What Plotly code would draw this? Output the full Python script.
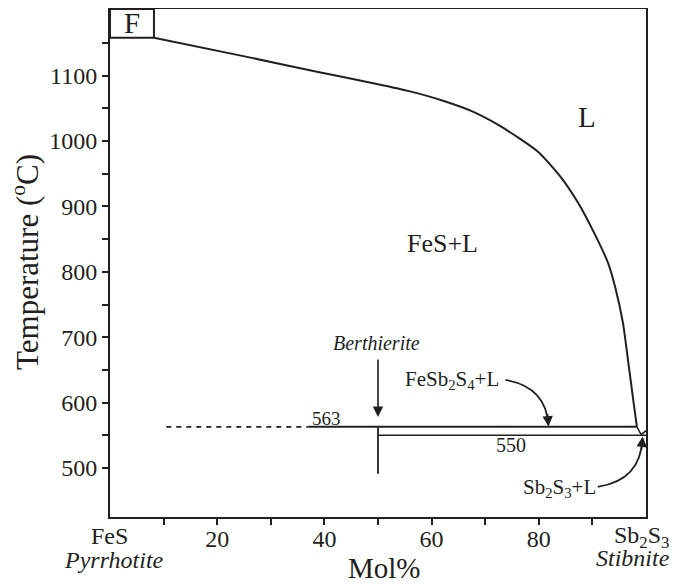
import plotly.graph_objects as go

INK = "#231f20"
FONT = "Liberation Serif"

# ---- data (x = mol% Sb2S3, y = temperature in °C) ----
liquidus_x = [8.2, 26.0, 38.6, 50.0, 56.0, 62.0, 68.0, 73.0, 79.8, 84.1, 87.3, 90.3, 92.9, 94.3, 95.7, 96.8, 97.8, 98.3]
liquidus_y = [1158, 1128, 1106, 1087, 1076, 1062, 1044, 1022, 984, 945, 906, 860, 814, 775, 722, 655, 593, 563]
sb_liquidus_x = [98.3, 99.1, 100.0]
sb_liquidus_y = [563, 551, 557]

line563_dash_x = [10.5, 37.0]
line563_solid_x = [37.0, 98.3]
t563 = 563
line550_x = [50, 100]
t550 = 550
berthierite_x = [50, 50]
berthierite_y = [563, 491]

x_tickvals = [20, 40, 60, 80]
x_minor = [10, 30, 50, 70, 90]
y_tickvals = [500, 600, 700, 800, 900, 1000, 1100]
y_minor = [550, 650, 750, 850, 950, 1050, 1150]
x_range = [0, 100]
y_range = [425, 1202]

f_box_x = [0, 8.2]
f_box_y = [1158, 1202]

# layout geometry (figure pixels; page has an 8px body margin)
OFF = 8
W, H = 681, 576
ML, MR, MT, MB = 102, 43, 1, 67
PW, PH = W - ML - MR, H - MT - MB

def px_x(px):
    return (px - OFF - ML) / PW

def px_y(py):
    return (H - MB - (py - OFF)) / PH

fig = go.Figure()

def add_line(x, y, width=2, dash="solid", shape="linear"):
    line = dict(color=INK, width=width, dash=dash, shape=shape)
    if shape == "spline":
        line["smoothing"] = 0.6
    fig.add_trace(go.Scatter(x=x, y=y, mode="lines", line=line,
                             hoverinfo="skip", showlegend=False))

add_line(liquidus_x, liquidus_y, 2, shape="spline")
add_line(sb_liquidus_x, sb_liquidus_y, 1.5)
add_line(line563_dash_x, [t563, t563], 1.8, "5px,5px")
add_line(line563_solid_x, [t563, t563], 2)
add_line(line550_x, [t550, t550], 1.5)
add_line(berthierite_x, berthierite_y, 1.8)

# F box
fig.add_shape(type="rect", x0=f_box_x[0], x1=f_box_x[1], y0=f_box_y[0], y1=f_box_y[1],
              xref="x", yref="y", line=dict(color=INK, width=2))

# curved arrows
fig.add_shape(type="path", xref="x", yref="y",
              path="M 73.8,634.7 Q 81.3,624 81.8,566",
              line=dict(color=INK, width=1.8))
fig.add_shape(type="path", xref="x", yref="y",
              path="M 91.0,471 Q 99.1,481.6 99.3,545",
              line=dict(color=INK, width=1.8))

def label(text, x, y, size, italic=False, xanchor="center", yanchor="middle", **kw):
    if italic:
        text = "<i>" + text + "</i>"
    fig.add_annotation(text=text, x=x, y=y, xref="x", yref="y", showarrow=False,
                       xanchor=xanchor, yanchor=yanchor,
                       font=dict(family=FONT, size=size, color=INK), **kw)

def plabel(text, px, py, size, italic=False, xanchor="center", yanchor="middle", **kw):
    if italic:
        text = "<i>" + text + "</i>"
    fig.add_annotation(text=text, x=px_x(px), y=px_y(py), xref="paper", yref="paper",
                       showarrow=False, xanchor=xanchor, yanchor=yanchor,
                       font=dict(family=FONT, size=size, color=INK), **kw)

label("F", 4.1, 1180, 29)
label("L", 88.9, 1037, 29)
label("FeS+L", 62.0, 844, 26)
label("563", 40.4, 576, 19)
label("550", 74.9, 535, 20)
label("Berthierite", 49.8, 691, 20, italic=True)
label("FeSb<sub>2</sub>S<sub>4</sub>+L", 72.9, 634, 21, xanchor="right")
label("Sb<sub>2</sub>S<sub>3</sub>+L", 91.0, 469, 21, xanchor="right")

# arrowheads
def arrow(x, y, ax, ay):
    fig.add_annotation(x=x, y=y, xref="x", yref="y", ax=ax, ay=ay, text="",
                       showarrow=True, arrowhead=2, arrowsize=1.3, arrowwidth=1.6,
                       arrowcolor=INK)

arrow(50, 578, 0, -59)
arrow(81.8, 563.5, -1, -14)
arrow(99.4, 548, -1.5, 14)

# end-member labels under x axis
plabel("FeS", 109, 536, 24)
plabel("Pyrrhotite", 114, 560, 24, italic=True)
plabel("Sb<sub>2</sub>S<sub>3</sub>", 642, 537, 24)
plabel("Stibnite", 633, 558, 24, italic=True)

# axis titles
plabel("Mol%", 384, 568, 29)
plabel("Temperature (<sup>o</sup>C)", 25, 262, 31, textangle=-90)

axis_common = dict(showline=True, linewidth=2, linecolor=INK, mirror=True,
                   ticks="outside", ticklen=6, tickwidth=2, tickcolor=INK,
                   showgrid=False, zeroline=False, automargin=False,
                   tickfont=dict(family=FONT, size=24, color=INK))

fig.update_xaxes(range=x_range, tickmode="array", tickvals=x_tickvals,
                 ticklabelstandoff=-7,
                 minor=dict(tickmode="array", tickvals=x_minor, ticks="outside",
                            ticklen=6, tickwidth=2, tickcolor=INK, showgrid=False),
                 **axis_common)
fig.update_yaxes(range=y_range, tickmode="array", tickvals=y_tickvals,
                 minor=dict(tickmode="array", tickvals=y_minor, ticks="outside",
                            ticklen=6, tickwidth=2, tickcolor=INK, showgrid=False),
                 **axis_common)

fig.update_layout(template="none", width=W, height=H,
                  margin=dict(l=ML, r=MR, t=MT, b=MB, autoexpand=False),
                  paper_bgcolor="white", plot_bgcolor="white",
                  showlegend=False,
                  font=dict(family=FONT, color=INK))

fig.write_html("out.html")
